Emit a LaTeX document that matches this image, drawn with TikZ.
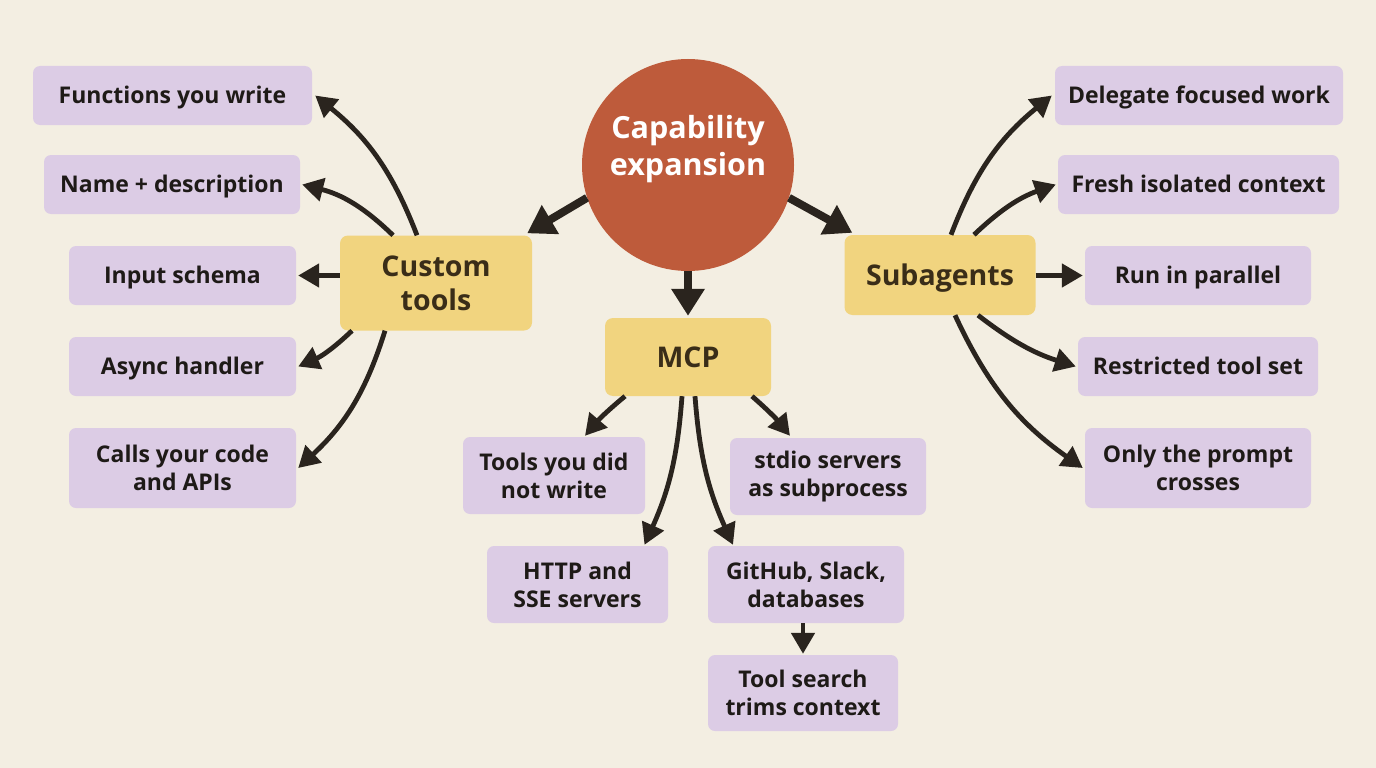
\documentclass[tikz,border=0pt]{standalone}
\usepackage{fontspec}
\setmainfont{Open Sans}
\usetikzlibrary{arrows.meta}
\definecolor{bg}{HTML}{F3EEE2}
\definecolor{circ}{HTML}{BE5B3B}
\definecolor{yel}{HTML}{F1D47F}
\definecolor{pur}{HTML}{DCCCE5}
\definecolor{ink}{HTML}{2A241E}
\definecolor{txt}{HTML}{1E1A17}
\definecolor{hubtxt}{HTML}{3A2D18}
\begin{document}
\begin{tikzpicture}[x=1pt,y=-1pt,
  leaf/.style={fill=pur, rounded corners=7pt, inner sep=0pt, align=center,
    font=\fontsize{23}{28}\selectfont\bfseries, text=txt},
  one/.style={text height=20.4pt, text depth=4pt},
  hub/.style={fill=yel, rounded corners=8pt, inner sep=0pt, align=center,
    font=\fontsize{28.5}{34}\selectfont\bfseries, text=hubtxt},
  hubone/.style={text height=24.3pt, text depth=4pt},
  arr/.style={draw=ink, line width=4.8pt, -{Triangle[length=21pt,width=23pt]}},
  bigarr/.style={draw=ink, line width=8pt, -{Triangle[length=27pt,width=32pt]}}]
\fill[bg] (0,0) rectangle (1376,768);
\useasboundingbox (0,0) rectangle (1376,768);

\node[circle, fill=circ, minimum size=212pt, inner sep=0pt,
  label={[text=white, align=center, yshift=16pt,
  font=\fontsize{30.5}{37}\selectfont\bfseries]center:Capability\\expansion}] (cap) at (688,165) {};

\node[hub, minimum width=192pt, minimum height=95pt] (ct) at (436,283) {Custom\\tools};
\node[hub, hubone, minimum width=166pt, minimum height=78pt] (mcp) at (688,357) {MCP};
\node[hub, hubone, minimum width=191pt, minimum height=80pt] (sa) at (940,275) {Subagents};

\node[leaf, one, minimum width=279pt, minimum height=59pt] (f1) at (172.5,95.5) {Functions you write};
\node[leaf, one, minimum width=256pt, minimum height=59pt] (f2) at (172,184.5) {Name + description};
\node[leaf, one, minimum width=227pt, minimum height=59pt] (f3) at (182.5,275.5) {Input schema};
\node[leaf, one, minimum width=227pt, minimum height=59pt] (f4) at (182.5,366.5) {Async handler};
\node[leaf, minimum width=227pt, minimum height=80pt] (f5) at (182.5,468) {Calls your code\\and APIs};

\node[leaf, minimum width=182pt, minimum height=77pt] (m1) at (554,475.5) {Tools you did\\not write};
\node[leaf, minimum width=196pt, minimum height=77pt] (m2) at (828,476.5) {stdio servers\\as subprocess};
\node[leaf, minimum width=181pt, minimum height=77pt] (m3) at (577.5,584.5) {HTTP and\\SSE servers};
\node[leaf, minimum width=196pt, minimum height=77pt] (m4) at (806,584.5) {GitHub, Slack,\\databases};
\node[leaf, minimum width=190pt, minimum height=76pt] (m5) at (803,693) {Tool search\\trims context};

\node[leaf, one, minimum width=288pt, minimum height=59pt] (s1) at (1199,95.5) {Delegate focused work};
\node[leaf, one, minimum width=281pt, minimum height=59pt] (s2) at (1198.5,184.5) {Fresh isolated context};
\node[leaf, one, minimum width=226pt, minimum height=59pt] (s3) at (1198,275.5) {Run in parallel};
\node[leaf, one, minimum width=240pt, minimum height=59pt] (s4) at (1198,366.5) {Restricted tool set};
\node[leaf, minimum width=226pt, minimum height=80pt] (s5) at (1198,468) {Only the prompt\\crosses};

\draw[bigarr] (cap.198) -- ([xshift=-5pt,yshift=2pt]ct.north east);
\draw[bigarr] (cap.south) -- ([yshift=2pt]mcp.north);
\draw[bigarr] (cap.-18) -- ([xshift=8pt,yshift=2pt]sa.north west);

\draw[arr] ([xshift=-19pt]ct.north) to[bend right=15] ([xshift=3pt]f1.east);
\draw[arr] ([xshift=-43pt]ct.north) to[bend right=15] ([xshift=2pt]f2.east);
\draw[arr] (ct.west |- f3.east) -- ([xshift=2pt]f3.east);
\draw[arr] ([xshift=-84pt]ct.south) to[bend left=10] ([xshift=2pt]f4.east);
\draw[arr] ([xshift=-51pt]ct.south) to[bend left=15] ([xshift=2pt]f5.east);

\draw[arr] ([xshift=-63pt]mcp.south) to[bend right=5] ([xshift=31pt,yshift=1pt]m1.north);
\draw[arr] ([xshift=-6pt]mcp.south) to[bend left=10] ([xshift=67pt,yshift=1pt]m3.north);
\draw[arr] ([xshift=7pt]mcp.south) to[bend right=10] ([xshift=-73pt,yshift=1pt]m4.north);
\draw[arr] ([xshift=64pt]mcp.south) to[bend left=5] ([xshift=-38pt,yshift=2pt]m2.north);
\draw[arr] (m4.south -| m5.north) -- ([yshift=1pt]m5.north);

\draw[arr] ([xshift=11pt]sa.north) to[bend left=15] ([xshift=-3pt]s1.west);
\draw[arr] ([xshift=34pt]sa.north) to[bend left=12] ([xshift=-2pt]s2.west);
\draw[arr] (sa.east |- s3.west) -- ([xshift=-2pt]s3.west);
\draw[arr] ([xshift=38pt]sa.south) to[bend right=10] ([xshift=-2pt]s4.west);
\draw[arr] ([xshift=15pt]sa.south) to[bend right=15] ([xshift=-2pt]s5.west);
\end{tikzpicture}
\end{document}
